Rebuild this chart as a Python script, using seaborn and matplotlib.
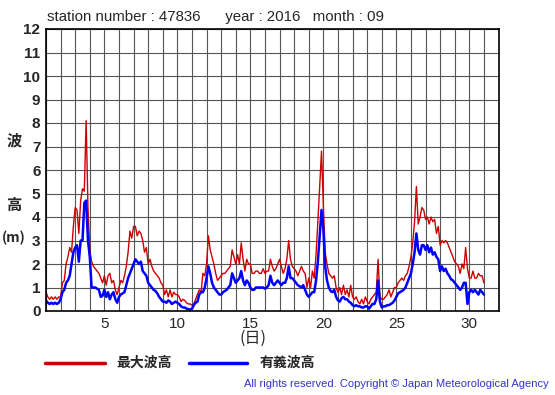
import numpy as np
import pandas as pd
import matplotlib
matplotlib.use("Agg")
import matplotlib.pyplot as plt
import seaborn as sns

# 3-hourly readings, day 1.0 .. 31.0
days = [1 + i * 0.125 for i in range(241)]

max_wave = [
    0.8, 0.6, 0.5, 0.6, 0.5, 0.6, 0.5, 0.6,   # 1
    0.6, 1.2, 1.3, 2.0, 2.3, 2.7, 2.5, 3.6,   # 2
    4.4, 4.3, 3.3, 4.7, 5.2, 5.1, 8.1, 4.4,   # 3
    2.6, 2.1, 1.9, 1.8, 1.7, 1.6, 1.4, 1.2,   # 4
    1.5, 1.1, 1.5, 1.6, 1.2, 1.3, 0.9, 0.7,   # 5
    1.0, 1.3, 1.2, 1.5, 1.9, 2.5, 3.4, 3.1,   # 6
    3.6, 3.6, 3.2, 3.4, 3.3, 3.0, 2.5, 2.7,   # 7
    2.0, 2.2, 1.9, 1.7, 1.6, 1.5, 1.4, 1.2,   # 8
    1.1, 0.7, 0.9, 0.6, 0.9, 0.6, 0.8, 0.7,   # 9
    0.7, 0.6, 0.4, 0.5, 0.45, 0.35, 0.3, 0.3, # 10
    0.25, 0.3, 0.5, 0.7, 0.9, 0.8, 1.6, 1.5,  # 11
    2.0, 3.2, 2.6, 2.3, 2.0, 1.6, 1.3, 1.4,   # 12
    1.5, 1.6, 1.6, 1.7, 1.8, 1.9, 2.6, 2.3,   # 13
    2.0, 2.4, 2.0, 2.9, 2.2, 1.7, 2.2, 2.0,   # 14
    2.0, 1.6, 1.6, 1.7, 1.7, 1.6, 1.6, 1.8,   # 15
    1.6, 1.7, 1.7, 2.2, 1.9, 1.7, 1.8, 2.0,   # 16
    2.2, 1.9, 1.6, 1.8, 2.2, 3.0, 2.2, 1.9,   # 17
    1.8, 1.7, 1.5, 1.7, 1.9, 1.7, 1.6, 1.0,   # 18
    1.4, 1.0, 1.7, 1.4, 2.4, 3.8, 5.3, 6.8,   # 19
    4.5, 2.5, 2.0, 1.6, 1.5, 1.4, 1.5, 1.0,   # 20
    0.8, 1.0, 0.7, 1.1, 0.7, 0.9, 0.6, 1.1,   # 21
    0.6, 0.5, 0.6, 0.4, 0.3, 0.5, 0.3, 0.6,   # 22
    0.4, 0.3, 0.5, 0.6, 0.7, 0.8, 2.2, 0.6,   # 23
    0.5, 0.5, 0.6, 0.7, 0.9, 0.6, 0.8, 1.0,   # 24
    1.0, 1.2, 1.3, 1.4, 1.3, 1.5, 1.6, 1.9,   # 25
    2.3, 2.9, 3.8, 5.3, 3.7, 4.0, 4.4, 4.3,   # 26
    3.9, 4.0, 3.7, 4.0, 3.8, 3.9, 3.3, 3.6,   # 27
    2.8, 3.0, 2.9, 3.0, 2.9, 2.7, 2.5, 2.3,   # 28
    2.1, 2.0, 1.9, 1.6, 2.0, 1.8, 2.7, 1.8,   # 29
    1.4, 1.4, 1.7, 1.4, 1.4, 1.6, 1.5, 1.5,   # 30
    1.2,
]

sig_wave = [
    0.45, 0.35, 0.3, 0.35, 0.3, 0.35, 0.3, 0.35,   # 1
    0.5, 0.8, 0.9, 1.2, 1.3, 1.5, 2.0, 2.5,         # 2
    2.7, 2.8, 2.1, 3.0, 3.0, 4.6, 4.7, 3.0,         # 3
    2.3, 1.0, 1.0, 1.0, 0.95, 0.9, 0.6, 0.65,       # 4
    0.9, 0.6, 0.8, 0.5, 0.7, 0.8, 0.5, 0.35,        # 5
    0.6, 0.7, 0.75, 0.8, 1.1, 1.4, 1.6, 1.8,        # 6
    2.0, 2.2, 2.1, 2.0, 2.1, 1.7, 1.6, 1.5,         # 7
    1.2, 1.1, 1.0, 0.9, 0.85, 0.75, 0.6, 0.5,       # 8
    0.4, 0.4, 0.35, 0.45, 0.4, 0.3, 0.35, 0.4,      # 9
    0.35, 0.3, 0.2, 0.15, 0.15, 0.1, 0.08, 0.05,    # 10
    0.1, 0.25, 0.35, 0.4, 0.7, 0.8, 0.8, 1.0,       # 11
    1.4, 1.9, 1.6, 1.2, 1.0, 0.9, 0.8, 0.7,         # 12
    0.7, 0.8, 0.85, 0.9, 1.0, 1.1, 1.6, 1.4,        # 13
    1.2, 1.3, 1.4, 1.7, 1.3, 1.1, 1.3, 1.2,         # 14
    1.0, 0.9, 0.9, 1.0, 1.0, 1.0, 1.0, 1.0,         # 15
    0.95, 1.0, 1.1, 1.5, 1.2, 1.1, 1.2, 1.3,        # 16
    1.2, 1.1, 1.2, 1.2, 1.4, 1.9, 1.4, 1.4,         # 17
    1.3, 1.2, 1.1, 1.05, 1.0, 1.1, 0.9, 0.7,        # 18
    0.6, 0.7, 0.8, 0.8, 1.3, 2.1, 3.2, 4.3,         # 19
    3.5, 1.9, 1.3, 1.0, 0.85, 0.8, 0.9, 0.6,        # 20
    0.45, 0.4, 0.55, 0.6, 0.5, 0.5, 0.4, 0.35,      # 21
    0.25, 0.2, 0.25, 0.2, 0.2, 0.15, 0.15, 0.2,     # 22
    0.2, 0.1, 0.2, 0.3, 0.3, 0.5, 1.3, 0.4,         # 23
    0.15, 0.2, 0.2, 0.25, 0.25, 0.3, 0.35, 0.45,    # 24
    0.6, 0.75, 0.8, 0.85, 0.9, 1.0, 1.2, 1.4,       # 25
    1.6, 2.0, 2.5, 3.3, 2.6, 2.4, 2.8, 2.8,         # 26
    2.6, 2.8, 2.5, 2.7, 2.4, 2.5, 2.3, 2.2,         # 27
    1.7, 1.9, 1.7, 1.8, 1.6, 1.5, 1.35, 1.3,        # 28
    1.2, 1.1, 1.0, 0.9, 1.0, 1.2, 1.2, 0.3,         # 29
    0.8, 0.9, 0.8, 0.9, 0.8, 0.7, 0.9, 0.8,         # 30
    0.7,
]

y_ticks = list(range(0, 13))
x_labels = {5: "5", 10: "10", 15: "15", 20: "20", 25: "25", 30: "30"}
title = "station number : 47836      year : 2016   month : 09"
legend_names = ["最大波高", "有義波高"]
copyright_text = "All rights reserved. Copyright © Japan Meteorological Agency"

sns.set_theme(style="white")
plt.rcParams["font.family"] = ["Liberation Sans", "Noto Sans CJK JP", "DejaVu Sans"]
jp = ["Noto Sans CJK JP", "DejaVu Sans"]

fig = plt.figure(figsize=(5.55, 3.95), dpi=100)
ax = fig.add_axes([46 / 555, 1 - 311 / 395, 452.5 / 555, 282 / 395])

df = pd.DataFrame({"day": days, "max": max_wave, "sig": sig_wave})
sns.lineplot(data=df, x="day", y="max", ax=ax, color="#cc0000", linewidth=1.0)
sns.lineplot(data=df, x="day", y="sig", ax=ax, color="#0000ff", linewidth=1.8)

ax.set_xlim(1, 32)
ax.set_ylim(0, 12)
ax.set_xticks(range(1, 33))
ax.set_xticklabels([x_labels.get(d, "") for d in range(1, 33)], fontsize=11)
ax.set_yticks(y_ticks)
ax.set_yticklabels([str(v) for v in y_ticks], fontsize=11, fontweight="bold")
ax.tick_params(axis="both", length=0, pad=4)
ax.grid(True, color="#555555", linewidth=0.8)
ax.set_axisbelow(True)
ax.set_xlabel("")
ax.set_ylabel("")
for s in ax.spines.values():
    s.set_color("black")
    s.set_linewidth(1.2)

fig.text(47 / 555, 1 - 17 / 395, title, fontsize=10.8, va="center", ha="left")
fig.text(253 / 555, 1 - 338 / 395, "(日)", fontsize=11.5, ha="center", va="center", family=jp)
fig.text(14 / 555, 1 - 140 / 395, "波", fontsize=11, fontweight="bold", ha="center", va="center", family=jp)
fig.text(14 / 555, 1 - 205 / 395, "高", fontsize=11, fontweight="bold", ha="center", va="center", family=jp)
fig.text(14 / 555, 1 - 238 / 395, "(m)", fontsize=10, fontweight="bold", ha="center", va="center", family=jp)

# legend
lax = fig.add_axes([0, 0, 1, 1], facecolor="none")
lax.set_xlim(0, 555)
lax.set_ylim(395, 0)
lax.axis("off")
lax.plot([45, 105], [363, 363], color="#cc0000", linewidth=2.5)
lax.plot([189, 247], [363, 363], color="#0000ff", linewidth=2.5)
lax.text(116, 363, legend_names[0], fontsize=10, fontweight="bold", va="center", ha="left", family=jp)
lax.text(260, 363, legend_names[1], fontsize=10, fontweight="bold", va="center", ha="left", family=jp)
lax.text(549, 384, copyright_text, fontsize=8, color="#3333cc", ha="right", va="center")

fig.savefig("out.png", dpi=100)
